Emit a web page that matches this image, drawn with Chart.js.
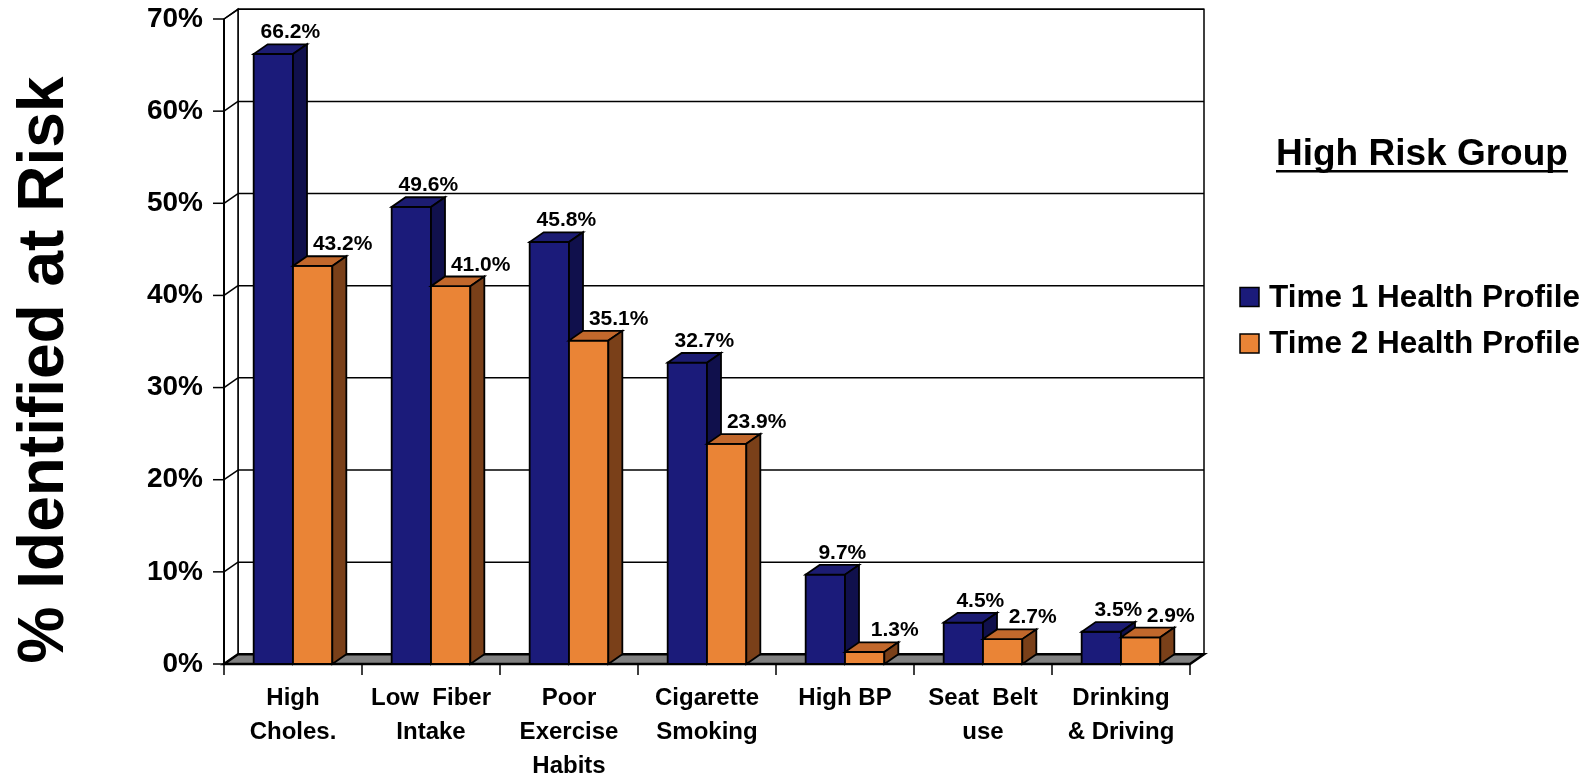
<!DOCTYPE html>
<html>
<head>
<meta charset="utf-8">
<script src="https://cdn.jsdelivr.net/npm/chart.js@4/dist/chart.umd.min.js"></script>
<style>
  html, body { margin: 0; padding: 0; background: #ffffff; }
  #wrap { width: 1590px; height: 776px; position: relative; }
</style>
</head>
<body>
<div id="wrap"><canvas id="chart" width="1590" height="776"></canvas></div>
<script>
// ---- data ----
const categories = [
  ['High', 'Choles.'],
  ['Low  Fiber', 'Intake'],
  ['Poor', 'Exercise', 'Habits'],
  ['Cigarette', 'Smoking'],
  ['High BP'],
  ['Seat  Belt', 'use'],
  ['Drinking', '& Driving']
];
const time1Values = [66.2, 49.6, 45.8, 32.7, 9.7, 4.5, 3.5];
const time2Values = [43.2, 41.0, 35.1, 23.9, 1.3, 2.7, 2.9];
const seriesNames = ['Time 1 Health Profile', 'Time 2 Health Profile'];
const yTickValues = [0, 10, 20, 30, 40, 50, 60, 70];
const yAxisTitle = '% Identified at Risk';
const legendTitle = 'High Risk Group';

// ---- styling ----
const FONT = "'Liberation Sans', Arial, Helvetica, sans-serif";
const DEPTH_X = 14;      // horizontal shift of the back plane
const DEPTH_Y = -9.7;    // vertical shift of the back plane
const faceColors = [
  { front: '#1b1b7a', top: '#1c1c72', side: '#10104c' },
  { front: '#ea8436', top: '#c2682c', side: '#7a4019' }
];
const labelShift = [17, 30];

function polygon(ctx, pts, fill, stroke, lw) {
  ctx.beginPath();
  ctx.moveTo(pts[0][0], pts[0][1]);
  for (let i = 1; i < pts.length; i++) ctx.lineTo(pts[i][0], pts[i][1]);
  ctx.closePath();
  if (fill) { ctx.fillStyle = fill; ctx.fill(); }
  if (stroke) { ctx.lineWidth = lw || 1.5; ctx.strokeStyle = stroke; ctx.stroke(); }
}
function line(ctx, x1, y1, x2, y2, lw) {
  ctx.beginPath();
  ctx.moveTo(x1, y1);
  ctx.lineTo(x2, y2);
  ctx.lineWidth = lw || 1.5;
  ctx.strokeStyle = '#000';
  ctx.stroke();
}

// Draws the walls, floor, extruded bars and value labels.
const box3d = {
  id: 'box3d',
  beforeDatasetsDraw(chart) {
    const ctx = chart.ctx;
    const xs = chart.scales.x, ys = chart.scales.y;
    const L = xs.left, R = xs.right;
    const T = ys.getPixelForValue(yTickValues[yTickValues.length - 1]);
    const B = ys.getPixelForValue(0);
    const dx = DEPTH_X, dy = DEPTH_Y;
    ctx.save();
    ctx.lineJoin = 'miter';

    // back wall
    polygon(ctx, [[L + dx, T + dy], [R + dx, T + dy], [R + dx, B + dy], [L + dx, B + dy]], '#ffffff', '#000', 1.5);
    // left wall
    polygon(ctx, [[L, T], [L + dx, T + dy], [L + dx, B + dy], [L, B]], '#ffffff', '#000', 1.5);

    // gridlines, wall diagonals and y tick marks
    yTickValues.forEach(v => {
      const y = ys.getPixelForValue(v);
      line(ctx, L - 11, y, L, y, 1.5);
      line(ctx, L, y, L + dx, y + dy, 1.5);
      if (v !== 0) line(ctx, L + dx, y + dy, R + dx, y + dy, 1.5);
    });

    // floor
    polygon(ctx, [[L, B], [R, B], [R + dx, B + dy], [L + dx, B + dy]], '#808080', '#000', 2.5);

    // x tick marks at category boundaries
    const n = categories.length;
    for (let k = 0; k <= n; k++) {
      const x = L + k * (R - L) / n;
      line(ctx, x, B, x, B + 11, 1.5);
    }
    line(ctx, L, T, L, B, 2);

    // bars, category by category so nearer faces overlap correctly
    const metas = chart.data.datasets.map((d, i) => chart.getDatasetMeta(i));
    for (let i = 0; i < n; i++) {
      metas.forEach((meta, d) => {
        const el = meta.data[i];
        const p = el.getProps(['x', 'y', 'base', 'width'], true);
        const l = p.x - p.width / 2, r = p.x + p.width / 2;
        const c = faceColors[d];
        polygon(ctx, [[l, p.y], [r, p.y], [r, p.base], [l, p.base]], c.front, '#000', 1.8);
        polygon(ctx, [[l, p.y], [r, p.y], [r + dx, p.y + dy], [l + dx, p.y + dy]], c.top, '#000', 1.8);
        polygon(ctx, [[r, p.y], [r + dx, p.y + dy], [r + dx, p.base + dy], [r, p.base]], c.side, '#000', 1.8);
      });
    }

    // value labels
    ctx.fillStyle = '#000';
    ctx.font = 'bold 21px ' + FONT;
    ctx.textAlign = 'center';
    ctx.textBaseline = 'alphabetic';
    metas.forEach((meta, d) => {
      const values = chart.data.datasets[d].data;
      meta.data.forEach((el, i) => {
        const p = el.getProps(['x', 'y'], true);
        ctx.fillText(values[i].toFixed(1) + '%', p.x + labelShift[d], p.y + dy - 6);
      });
    });
    ctx.restore();
    return false;
  },
  afterDraw(chart) {
    const ctx = chart.ctx;
    ctx.save();
    ctx.fillStyle = '#000';

    // y axis title
    ctx.translate(63, 370);
    ctx.rotate(-Math.PI / 2);
    ctx.font = 'bold 64px ' + FONT;
    ctx.textAlign = 'center';
    ctx.textBaseline = 'alphabetic';
    ctx.fillText(yAxisTitle, 0, 0);
    ctx.setTransform(1, 0, 0, 1, 0, 0);

    // legend title (underlined)
    ctx.font = 'bold 37px ' + FONT;
    ctx.textAlign = 'left';
    const tx = 1276, ty = 165;
    ctx.fillText(legendTitle, tx, ty);
    const w = ctx.measureText(legendTitle).width;
    ctx.fillRect(tx, ty + 5, w, 2.5);

    // legend entries
    ctx.font = 'bold 31.5px ' + FONT;
    chart.data.datasets.forEach((ds, d) => {
      const by = 306.5 + d * 46.5;
      ctx.fillStyle = ds.backgroundColor;
      ctx.fillRect(1240, by - 19, 19, 19);
      ctx.lineWidth = 1.5;
      ctx.strokeStyle = '#000';
      ctx.strokeRect(1240, by - 19, 19, 19);
      ctx.fillStyle = '#000';
      ctx.fillText(ds.label, 1269, by);
    });
    ctx.restore();
  }
};

new Chart(document.getElementById('chart'), {
  type: 'bar',
  data: {
    labels: categories,
    datasets: [
      { label: seriesNames[0], data: time1Values, backgroundColor: faceColors[0].front },
      { label: seriesNames[1], data: time2Values, backgroundColor: faceColors[1].front }
    ]
  },
  options: {
    responsive: false,
    animation: false,
    events: [],
    layout: { padding: { top: 19, right: 400, left: 0, bottom: 0 } },
    datasets: { bar: { categoryPercentage: 0.57, barPercentage: 1.0 } },
    plugins: { legend: { display: false }, tooltip: { enabled: false } },
    scales: {
      x: {
        grid: { display: false, drawTicks: false },
        border: { display: false },
        ticks: {
          color: '#000',
          font: { family: FONT, size: 24, weight: 'bold', lineHeight: 1.4 },
          padding: 18,
          maxRotation: 0,
          autoSkip: false
        },
        afterFit(s) { s.height = 112; s.paddingLeft = 0; s.paddingRight = 0; }
      },
      y: {
        min: 0,
        max: 70,
        grid: { display: false, drawTicks: false },
        border: { display: false },
        afterBuildTicks(s) { s.ticks = yTickValues.map(v => ({ value: v })); },
        ticks: {
          color: '#000',
          font: { family: FONT, size: 28, weight: 'bold' },
          padding: 21,
          callback: v => v + '%'
        },
        afterFit(s) { s.width = 224; s.paddingTop = 0; s.paddingBottom = 0; }
      }
    }
  },
  plugins: [box3d]
});
</script>
</body>
</html>
